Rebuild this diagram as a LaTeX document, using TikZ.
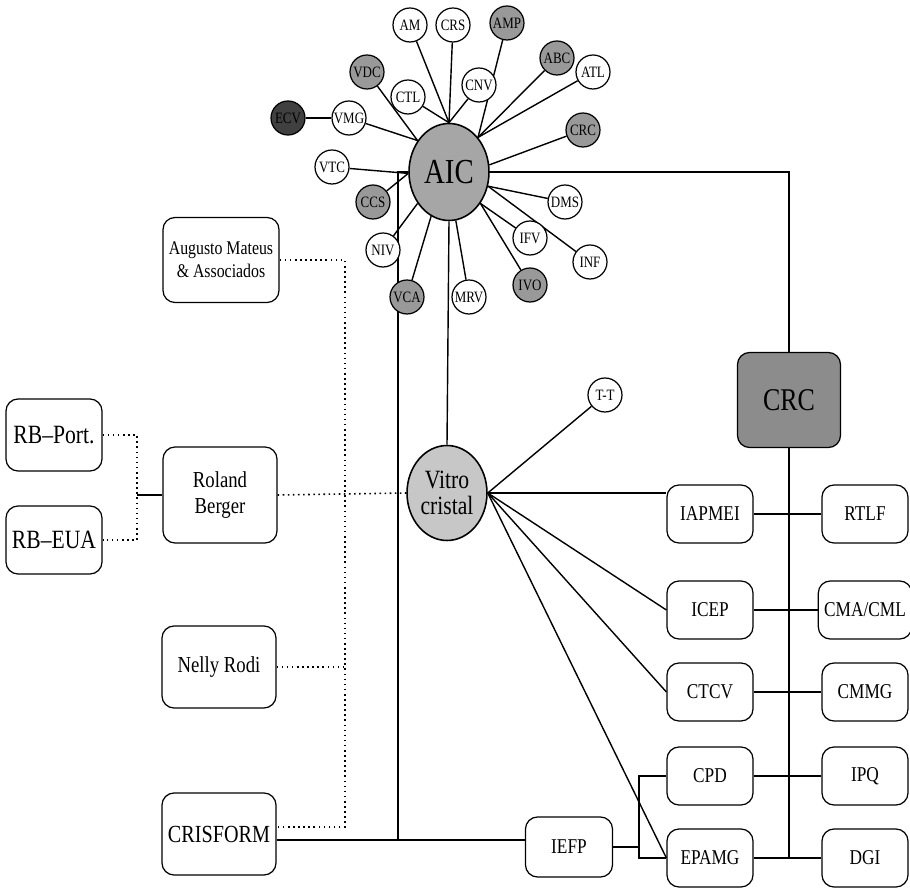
\documentclass[tikz,border=0pt]{standalone}
\usepackage{fontspec}
\setmainfont{Liberation Serif}[FakeStretch=0.82]
\usetikzlibrary{shapes.geometric,backgrounds}
\begin{document}
\begin{tikzpicture}[x=0.02cm,y=-0.02cm]
    \tikzstyle{petit}=[circle,draw,line width=0.7pt,fill=white,minimum size=0.68cm,inner sep=0pt,font=\fontsize{9}{9}\selectfont]
    \tikzstyle{petit gris}=[petit,fill=black!40]
    \tikzstyle{petit noir}=[petit,fill=black!75]
    \tikzstyle{pole}=[ellipse,draw,line width=0.9pt,minimum width=1.6cm,minimum height=1.94cm,inner sep=0pt,align=center]
    \tikzstyle{boite}=[draw,rounded corners=2.4mm,fill=white,line width=0.7pt,minimum width=1.72cm,minimum height=1.16cm,font=\fontsize{12}{13}\selectfont]
    \tikzstyle{boite gauche}=[boite,minimum width=2.28cm,minimum height=1.64cm,align=center,font=\fontsize{13}{15}\selectfont]
    \tikzstyle{lien}=[line width=0.8pt]
    \tikzstyle{pointille}=[line width=0.9pt,dotted]

\useasboundingbox (0,0) rectangle (910,891);

% Poles
\node[pole,fill=black!35,font=\fontsize{20}{20}\selectfont] (AIC) at (449,172) {AIC};
\node[pole,fill=black!22,minimum height=1.9cm,font=\fontsize{15}{15}\selectfont] (Vitro) at (447,493) {Vitro\\cristal};
\node[boite,fill=black!45,minimum width=2.06cm,minimum height=1.9cm,font=\fontsize{18}{18}\selectfont] (CRC) at (789,400) {CRC};

% Satellites de AIC
\node[petit] (AM) at (410,25) {AM};
\node[petit] (CRS) at (453,25) {CRS};
\node[petit gris] (AMP) at (507,23) {AMP};
\node[petit gris] (VDC) at (367,72) {VDC};
\node[petit gris] (ABC) at (557,58) {ABC};
\node[petit] (ATL) at (593,72) {ATL};
\node[petit] (CTL) at (408,97) {CTL};
\node[petit] (CNV) at (479,85) {CNV};
\node[petit noir] (ECV) at (288,118) {ECV};
\node[petit] (VMG) at (349,118) {VMG};
\node[petit gris] (CRCp) at (583,130) {CRC};
\node[petit] (VTC) at (332,167) {VTC};
\node[petit gris] (CCS) at (373,202) {CCS};
\node[petit] (DMS) at (565,202) {DMS};
\node[petit] (NIV) at (383,250) {NIV};
\node[petit] (IFV) at (530,238) {IFV};
\node[petit] (INF) at (590,262) {INF};
\node[petit gris] (VCA) at (407,297) {VCA};
\node[petit] (MRV) at (469,297) {MRV};
\node[petit gris] (IVO) at (530,285) {IVO};
\node[petit] (TT) at (605,395) {T-T};

% Consultores
\node[boite gauche,minimum height=1.7cm,font=\fontsize{11}{13}\selectfont] (AMA) at (221,260) {Augusto Mateus\\\& Associados};
\node[boite gauche,minimum height=1.92cm] (RB) at (220,495) {Roland\\Berger};
\node[boite gauche] (NR) at (219,667) {Nelly Rodi};
\node[boite gauche,font=\fontsize{14}{14}\selectfont] (CRIS) at (219,834) {CRISFORM};
\node[boite,minimum width=1.92cm,minimum height=1.44cm,font=\fontsize{15}{15}\selectfont] (RBP) at (54,435) {RB--Port.};
\node[boite,minimum width=1.92cm,minimum height=1.36cm,font=\fontsize{15}{15}\selectfont] (RBE) at (54,540) {RB--EUA};

% Instituicoes
\node[boite] (IAPMEI) at (710,514) {IAPMEI};
\node[boite] (ICEP) at (710,610) {ICEP};
\node[boite] (CTCV) at (710,692) {CTCV};
\node[boite] (CPD) at (710,776) {CPD};
\node[boite] (EPAMG) at (710,858) {EPAMG};
\node[boite] (RTLF) at (865,514) {RTLF};
\node[boite] (CMA) at (865,610) {CMA/CML};
\node[boite] (CMMG) at (865,692) {CMMG};
\node[boite] (IPQ) at (865,776) {IPQ};
\node[boite] (DGI) at (865,858) {DGI};
\node[boite,minimum width=1.74cm,minimum height=1.2cm] (IEFP) at (569,847) {IEFP};

\coordinate (jonction) at (398,840);
\coordinate (bus) at (345,827);
\coordinate (rbj) at (137,495);
\coordinate (fourche) at (639,847);

\begin{scope}[on background layer]
% Liens de AIC
\path[lien] (AM) edge (AIC.north) (CRS) edge (AIC.north) (CTL) edge (AIC.north) (CNV) edge (AIC.north)
 (AMP) edge (AIC.50) (ABC) edge (AIC.50) (ATL) edge (AIC.50) (CRCp) edge (AIC.10)
 (VDC) edge (AIC.135) (VMG) edge (AIC.135) (VTC) edge (AIC.182) (CCS) edge (AIC.182)
 (DMS) edge (AIC.-20) (INF) edge (AIC.-20) (IFV) edge (AIC.-45) (IVO) edge (AIC.-45)
 (MRV) edge (AIC.-82) (VCA) edge (AIC.-112) (NIV) edge (AIC.-135);
\draw[lien] (ECV) -- (VMG);
\draw[lien] (AIC.south) -- (Vitro.north);
\draw[lien] (AIC.east) -| (CRC.north);
\draw[lien] (AIC.west) -| (jonction);
\draw[lien] (CRC.south) -- (CRC.south |- DGI.west);

% Liens de Vitrocristal
\draw[lien] (Vitro.east) -- (TT);
\draw[lien] (Vitro.east) -- (Vitro.east -| IAPMEI.west);
\path[lien] (Vitro.east) edge (ICEP.west) (Vitro.east) edge (CTCV.west) (Vitro.east) edge (EPAMG.west);

% Liens horizontaux
\path[lien] (IAPMEI) edge (RTLF) (ICEP) edge (CMA) (CTCV) edge (CMMG)
 (CPD) edge (IPQ) (EPAMG) edge (DGI);
\draw[lien] (IEFP.east) -- (fourche);
\draw[lien] (CPD.west) -| (fourche) |- (EPAMG.west);
\draw[lien] (CRIS.east |- jonction) -- (IEFP.west |- jonction);

% Pointilles
\draw[pointille] (AMA.east) -| (bus) -- (CRIS.east |- bus);
\draw[pointille] (NR.east) -- (NR.east -| bus);
\draw[pointille] (RB.east) -- (Vitro.west);
\draw[pointille] (RBP.east) -| (rbj) |- (RBE.east);
\draw[lien] (rbj) -- (RB.west);
\end{scope}

\end{tikzpicture}
\end{document}
